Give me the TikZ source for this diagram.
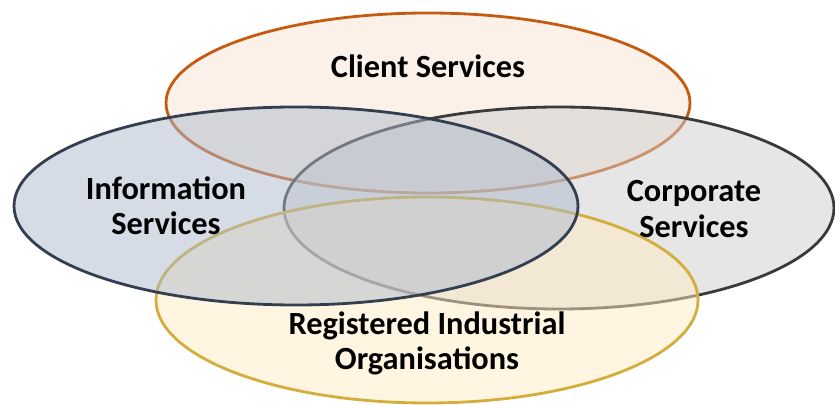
\documentclass[tikz,border=0pt]{standalone}
\usepackage{fontspec}
\setmainfont{Carlito}
\usetikzlibrary{calc}

\definecolor{clientline}{HTML}{C55A11}
\definecolor{clientfill}{HTML}{F7E3D3}
\definecolor{infoline}{HTML}{333F50}
\definecolor{infofill}{HTML}{ADB9CB}
\definecolor{corpline}{HTML}{3A3A3A}
\definecolor{corpfill}{HTML}{CDCDCD}
\definecolor{regline}{HTML}{D4AE3C}
\definecolor{regfill}{HTML}{FFEBC1}

\tikzset{
  venn/.style={line width=2pt, fill opacity=.5, draw opacity=1},
  label/.style={align=center, font=\fontsize{23}{25}\selectfont\bfseries}
}

\begin{document}
\begin{tikzpicture}[x=0.025cm, y=-0.025cm]
            \useasboundingbox (0, 0) rectangle (835, 405);

            \coordinate (client) at (428, 103);
            \coordinate (corporate) at (559, 208);
            \coordinate (registered) at (427, 300);
            \coordinate (info) at (296, 206);

            \draw [venn, draw=clientline, fill=clientfill] (client)
                ellipse [x radius=262, y radius=90];
            \draw [venn, draw=corpline, fill=corpfill] (corporate)
                ellipse [x radius=275, y radius=101];
            \draw [venn, draw=regline, fill=regfill] (registered)
                ellipse [x radius=271, y radius=103];
            \draw [venn, draw=infoline, fill=infofill] (info)
                ellipse [x radius=282, y radius=99];

            \node [label] (clientText) at (428, 66) {Client Services};
            \node [label] (infoText) at (166, 206) {Information\\Services};
            \node [label] (corporateText) at (694, 209) {Corporate\\Services};
            \node [label] (registeredText) at (427, 343) {Registered Industrial\\Organisations};

        \end{tikzpicture}
\end{document}
